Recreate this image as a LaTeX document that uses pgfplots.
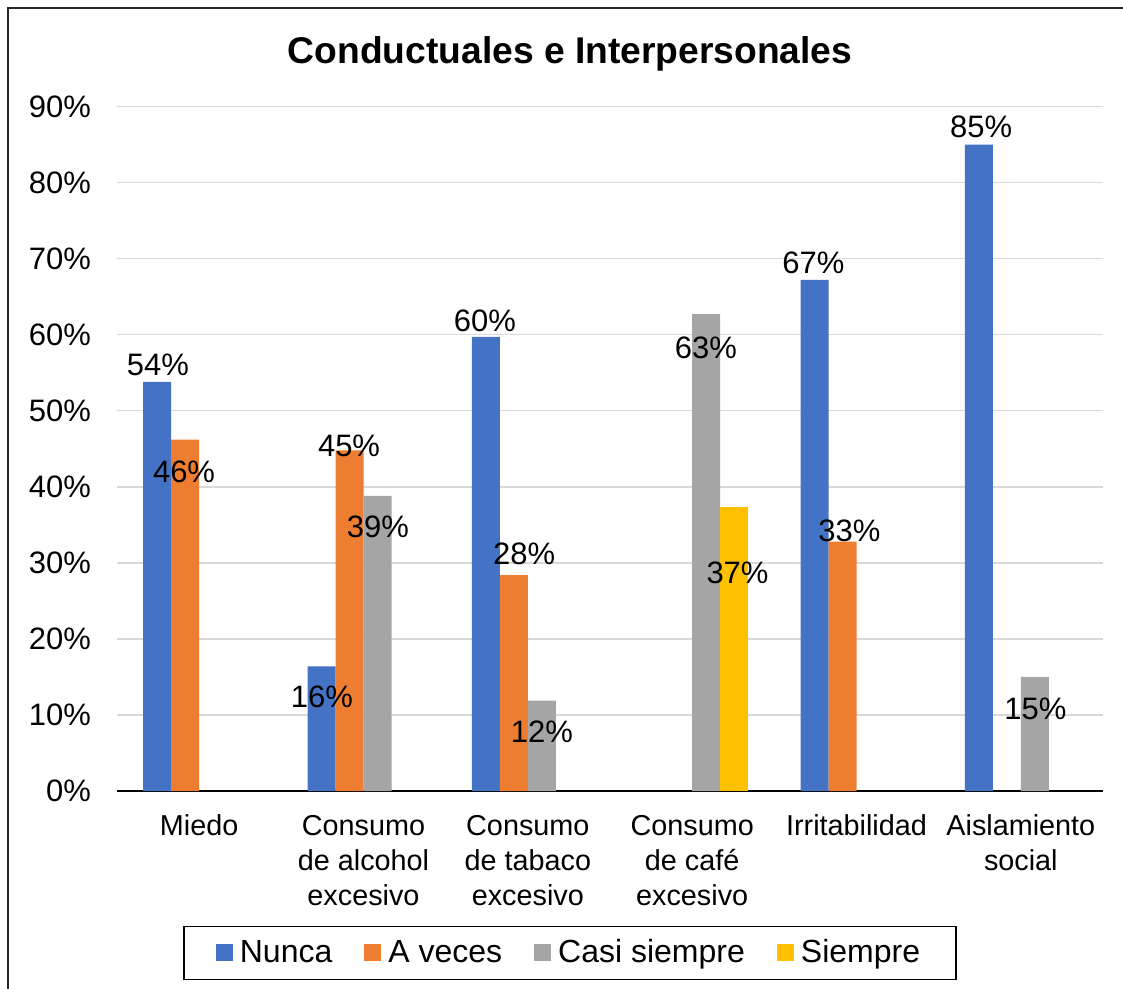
\documentclass[border=0pt]{standalone}
\usepackage{fontspec}
\setmainfont{Liberation Sans}
\usepackage{pgfplots}
\pgfplotsset{compat=1.18}
\definecolor{cNunca}{HTML}{4472C4}
\definecolor{cAveces}{HTML}{ED7D31}
\definecolor{cCasi}{HTML}{A5A5A5}
\definecolor{cSiempre}{HTML}{FFC000}
\definecolor{cGrid}{HTML}{D9D9D9}
\newcommand{\lf}{\fontsize{15.5}{17.5}\selectfont}
\newcommand{\xf}{\fontsize{14.4}{17.5}\selectfont}
\newcommand{\gf}{\fontsize{16}{18}\selectfont}
\pgfplotsset{sqleg/.style={legend image code/.code={\fill[##1,draw=none] (0pt,-4.25pt) rectangle (8.5pt,4.25pt);}}}

\begin{document}
\begin{tikzpicture}
\useasboundingbox (0,0) rectangle (561.5pt,-494.5pt);
\draw[line width=1pt, black!85] (3.75pt,-510pt) -- (3.75pt,-4pt) -- (580pt,-4pt);
\node[font=\fontsize{18.6}{20}\selectfont\bfseries, inner sep=0pt, anchor=base] at (285pt,-31.9pt) {Conductuales e Interpersonales};
\begin{axis}[
  at={(58.5pt,-395.5pt)}, anchor=south west,
  width=493pt, height=342.25pt, scale only axis,
  ybar=0pt, bar width=14pt,
  xmin=-0.5, xmax=5.5, ymin=0, ymax=90,
  axis x line*=bottom, axis y line*=left,
  x axis line style={draw=black, line width=0.75pt, -},
  y axis line style={draw=none},
  major tick length=0pt, tick style={draw=none},
  ymajorgrids, grid style={draw=cGrid, line width=0.75pt},
  xtick={0,1,2,3,4,5},
  xticklabels={Miedo, Consumo\\de alcohol\\excesivo, Consumo\\de tabaco\\excesivo, Consumo\\de café\\excesivo, Irritabilidad, Aislamiento\\social},
  xticklabel style={align=center, font=\xf, yshift=-8.5pt},
  ytick={0,10,20,30,40,50,60,70,80,90},
  yticklabels={0\%,10\%,20\%,30\%,40\%,50\%,60\%,70\%,80\%,90\%},
  yticklabel style={font=\lf, xshift=-9.5pt},
  legend columns=4,
  legend style={at={(0.4594,-0.2365)}, anchor=center, draw=black, line width=0.75pt, font=\gf,
    inner xsep=16pt, inner ysep=4.75pt,
    /tikz/every odd column/.append style={column sep=1.5pt},
    /tikz/every even column/.append style={column sep=14pt}},
]
\addplot[sqleg, fill=cNunca, draw=none] coordinates {(0,53.8) (1,16.4) (2,59.7) (4,67.2) (5,85.0)};
\addplot[sqleg, fill=cAveces, draw=none] coordinates {(0,46.2) (1,44.8) (2,28.4) (4,32.8)};
\addplot[sqleg, fill=cCasi, draw=none] coordinates {(1,38.8) (2,11.9) (3,62.7) (5,15.0)};
\addplot[sqleg, fill=cSiempre, draw=none] coordinates {(3,37.3)};
\legend{Nunca, A veces, Casi siempre, Siempre}
\begin{scope}[every node/.style={font=\lf, inner sep=0pt, anchor=center}]
\node at (axis cs:-0.2505,56.02) {54\%};
\node at (axis cs:-0.092,41.98) {46\%};
\node at (axis cs:0.912,45.39) {45\%};
\node at (axis cs:1.088,34.77) {39\%};
\node at (axis cs:0.7475,12.33) {16\%};
\node at (axis cs:1.739,61.79) {60\%};
\node at (axis cs:1.977,31.23) {28\%};
\node at (axis cs:2.086,7.74) {12\%};
\node at (axis cs:3.084,58.25) {63\%};
\node at (axis cs:3.276,28.73) {37\%};
\node at (axis cs:3.738,69.47) {67\%};
\node at (axis cs:3.9575,34.24) {33\%};
\node at (axis cs:4.758,87.31) {85\%};
\node at (axis cs:5.089,10.82) {15\%};
\end{scope}
\end{axis}
\end{tikzpicture}
\end{document}
